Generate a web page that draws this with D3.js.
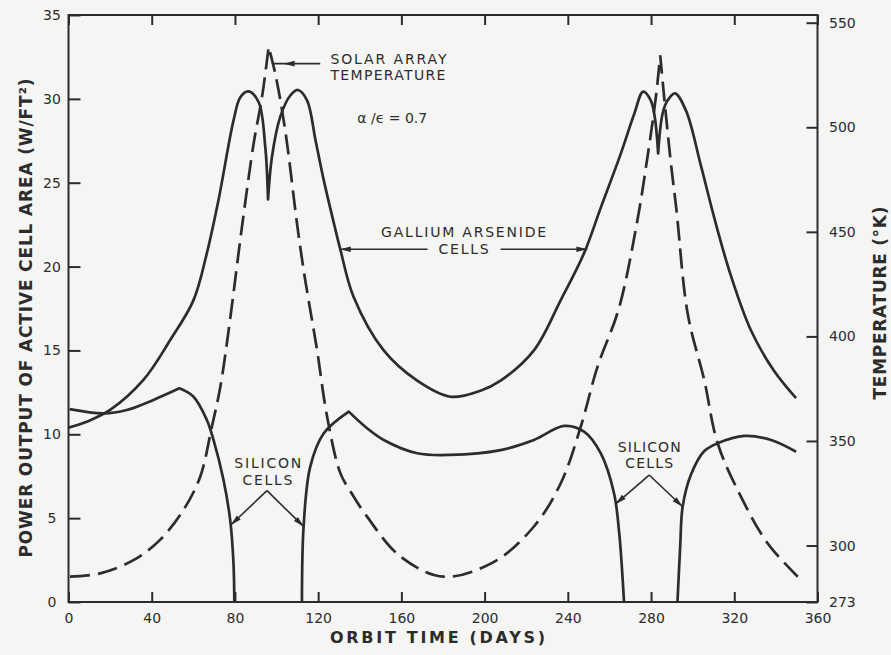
<!DOCTYPE html>
<html>
<head>
<meta charset="utf-8">
<script src="https://cdn.jsdelivr.net/npm/d3@7"></script>
<style>
  html, body { margin: 0; padding: 0; background: #f5f5f3; }
  svg { display: block; }
  text { font-family: "DejaVu Sans", sans-serif; fill: #2c2c2c; }
</style>
</head>
<body>
<svg id="chart" width="891" height="655"></svg>
<script>
// ---- axis ticks ----
const dayTicks = [0, 40, 80, 120, 160, 200, 240, 280, 320, 360];
const powerTicks = [0, 5, 10, 15, 20, 25, 30, 35];
const temperatureTicks = [273, 300, 350, 400, 450, 500, 550];

// ---- gallium arsenide cells, power output (W/ft^2) ----
const galliumDays = [0, 8.8, 20, 36, 48.9, 60.1, 66.5, 72.1, 79.3, 82.6, 86.5, 91.4, 94.6, 95.9,
  97.8, 101.8, 106.6, 110.3, 114.7, 118.7, 122.6, 128.3, 130.7, 137, 151.5, 167.6, 183.6, 198,
  207.7, 223.7, 236.6, 247.8, 255.8, 265.5, 271.9, 276.2, 279.9, 281.8, 283.4, 285.5, 287.9,
  291.5, 296.8, 304, 310.4, 318, 328, 339, 349.7];
const galliumPower = [10.4, 10.75, 11.45, 13.24, 15.62, 18.0, 20.8, 23.97, 28.7, 30.1, 30.45, 29.8, 27.1, 24.0,
  26.55, 28.94, 30.2, 30.53, 29.9, 27.55, 25.2, 22.2, 21.0, 18.2, 15.0, 13.2, 12.24, 12.6,
  13.2, 15.0, 18.0, 20.8, 23.5, 26.75, 29.1, 30.43, 29.9, 28.9, 26.75, 29.1, 29.9,
  30.33, 29.3, 26.0, 22.9, 19.6, 16.2, 13.8, 12.15];
const galliumCusps = [95.9, 283.4];

// ---- silicon cells, power output (W/ft^2) ----
const siliconDays = [0.5, 16.8, 28, 40.8, 53.3, 60.1, 66.5, 69.7, 74.5, 77.7, 79.3, 79.7,
  112.2, 113, 116.2, 122.7, 134.7, 143.5, 151.5, 167.6, 183.6, 207.7, 223.7, 238.2, 247.8,
  255.8, 262.2, 264.7, 267,
  292.7, 294, 295.2, 299.2, 305.6, 312, 324.8, 337.7, 349.7];
const siliconPower = [11.5, 11.25, 11.45, 12.05, 12.74, 12.24, 10.85, 9.66, 7.27, 4.9, 2.3, 0,
  0, 4.5, 8.07, 10.06, 11.35, 10.36, 9.66, 8.87, 8.77, 9.06, 9.66, 10.5, 10.16,
  8.87, 6.48, 4.1, 0,
  0, 3.3, 5.7, 7.6, 9.0, 9.46, 9.9, 9.66, 8.96];
const siliconCusps = [53.3, 134.7];

// ---- solar array temperature (deg K) ----
const temperatureDays = [0.7, 15.2, 31.2, 44, 55.3, 63.3, 68.9, 73, 77.5, 83.4, 89, 93, 96.2,
  99.4, 104.2, 109.8, 113, 115.4, 119.5, 124.3, 130.7, 136, 143.5, 159.6, 180.4, 204.5,
  223.7, 236.6, 246.2, 254.2, 264.5, 273.2, 278.3, 282.3, 284.4, 286.3, 289.5, 292.2,
  297.6, 305.6, 312, 323.2, 336, 350.5];
const temperatureK = [285.1, 286.7, 293.0, 302.7, 317.1, 332.9, 356.8, 376.0, 406.9, 452.6, 492.3, 514.4, 538.4,
  525.6, 498.3, 454.2, 431.8, 417.3, 393.3, 361.6, 334.5, 325.1, 313.8, 294.7, 285.1, 292.2,
  309.1, 329.8, 356.8, 385.3, 413.3, 454.2, 485.9, 514.4, 534.4, 514.4, 483.1, 460.6,
  410.9, 378.9, 348.9, 323.4, 301.1, 285.1];
const temperatureCusps = [96.2, 284.4];

// ---- layout ----
const W = 891, H = 655;
const plot = { left: 68.5, right: 817.5, top: 15, bottom: 602 };
const ink = "#2c2c2c";

const svg = d3.select("#chart");
svg.append("rect").attr("width", W).attr("height", H).attr("fill", "#f5f5f3");

const x = d3.scaleLinear().domain([0, 360]).range([plot.left, plot.right]);
const yPower = d3.scaleLinear().domain([0, 35]).range([plot.bottom, plot.top]);
const yTemp = d3.scaleLinear().domain([273, 550]).range([plot.bottom, 22.7]);

// ---- axes ----
function styleAxis(g) {
  g.select(".domain").remove();
  g.selectAll(".tick line").attr("stroke", ink).attr("stroke-width", 2);
  g.selectAll(".tick text").attr("fill", ink).style("font-size", "14px")
    .style("font-family", "'DejaVu Sans', sans-serif");
}

svg.append("g")
  .attr("transform", `translate(0,${plot.bottom})`)
  .call(d3.axisBottom(x).tickValues(dayTicks).tickSize(-10).tickSizeOuter(0).tickPadding(11))
  .call(styleAxis);

svg.append("g")
  .attr("transform", `translate(0,${plot.top})`)
  .call(d3.axisTop(x).tickValues(dayTicks).tickSize(-10).tickSizeOuter(0).tickFormat(""))
  .call(styleAxis);

svg.append("g")
  .attr("transform", `translate(${plot.left},0)`)
  .call(d3.axisLeft(yPower).tickValues(powerTicks).tickSize(-12).tickSizeOuter(0))
  .call(styleAxis)
  .call(g => g.selectAll(".tick text").attr("text-anchor", "middle").attr("x", -16.5));

svg.append("g")
  .attr("transform", `translate(${plot.right},0)`)
  .call(d3.axisRight(yTemp).tickValues(temperatureTicks).tickSize(-11).tickSizeOuter(0).tickPadding(11.5))
  .call(styleAxis);

// frame
svg.append("rect")
  .attr("x", plot.left).attr("y", plot.top)
  .attr("width", plot.right - plot.left).attr("height", plot.bottom - plot.top)
  .attr("fill", "none").attr("stroke", ink).attr("stroke-width", 2);

// ---- curves ----
// Splits a series at sharp corners (cusps) and at stretches where the output
// sits at zero, smoothing each run separately so corners stay pointed.
function curvePath(days, values, cusps, yScale) {
  const line = d3.line().x(d => x(d[0])).y(d => yScale(d[1]))
    .curve(d3.curveCatmullRom.alpha(0.5));
  const pts = days.map((d, i) => [d, values[i]]);
  const runs = [];
  let cur = [pts[0]], joined = false;
  for (let i = 1; i < pts.length; i++) {
    const p = pts[i], q = pts[i - 1];
    if (q[1] === 0 && p[1] === 0) {
      runs.push({ pts: cur, join: joined });
      cur = [p]; joined = false;
      continue;
    }
    cur.push(p);
    if (cusps.includes(p[0])) {
      runs.push({ pts: cur, join: joined });
      cur = [p]; joined = true;
    }
  }
  runs.push({ pts: cur, join: joined });
  return runs.filter(r => r.pts.length > 1)
    .map(r => { const s = line(r.pts); return r.join ? "L" + s.slice(1) : s; })
    .join("");
}

const curves = svg.append("g").attr("fill", "none").attr("stroke", ink)
  .attr("stroke-width", 2.7).attr("stroke-linejoin", "round");

curves.append("path").attr("class", "gallium")
  .attr("d", curvePath(galliumDays, galliumPower, galliumCusps, yPower));
curves.append("path").attr("class", "silicon")
  .attr("d", curvePath(siliconDays, siliconPower, siliconCusps, yPower));
curves.append("path").attr("class", "temperature")
  .attr("stroke-dasharray", "20,8").attr("stroke-linejoin", "miter")
  .attr("d", curvePath(temperatureDays, temperatureK, temperatureCusps, yTemp));

// ---- annotations (positioned in day / power units) ----
const labels = [
  { text: "SOLAR ARRAY", day: 125.9, power: 32.1, anchor: "start", len: 116 },
  { text: "TEMPERATURE", day: 125.9, power: 31.12, anchor: "start", len: 115 },
  { text: "GALLIUM ARSENIDE", day: 189.9, power: 21.75, anchor: "middle", len: 165 },
  { text: "CELLS", day: 189.9, power: 20.77, anchor: "middle", len: 50 },
  { text: "SILICON", day: 95.8, power: 7.97, anchor: "middle", len: 67 },
  { text: "CELLS", day: 95.6, power: 6.98, anchor: "middle", len: 50 },
  { text: "SILICON", day: 279.1, power: 8.96, anchor: "middle", len: 63 },
  { text: "CELLS", day: 279.1, power: 7.97, anchor: "middle", len: 48 }
];

const notes = svg.append("g");
notes.selectAll("text.note").data(labels).join("text")
  .attr("class", "note")
  .attr("x", d => x(d.day)).attr("y", d => yPower(d.power))
  .attr("text-anchor", d => d.anchor)
  .attr("textLength", d => d.len).attr("lengthAdjust", "spacing")
  .style("font-size", "14px")
  .text(d => d.text);

notes.append("text")
  .attr("x", x(155.6)).attr("y", yPower(28.56))
  .attr("text-anchor", "middle")
  .attr("textLength", 70).attr("lengthAdjust", "spacing")
  .style("font-size", "14px")
  .text("α /ϵ = 0.7");

const arrows = [
  { from: [121, 32.1], to: [97.8, 32.1], head: [103.4, 32.1] },
  { from: [172.6, 21.03], to: [130.4, 21.03] },
  { from: [207.7, 21.03], to: [249.4, 21.03] },
  { from: [95.4, 6.64], to: [78.0, 4.59] },
  { from: [95.4, 6.64], to: [113.1, 4.49] },
  { from: [279.1, 7.57], to: [262.9, 5.84] },
  { from: [279.1, 7.57], to: [295.2, 5.68] }
];

arrows.forEach(a => {
  const x1 = x(a.from[0]), y1 = yPower(a.from[1]);
  const x2 = x(a.to[0]), y2 = yPower(a.to[1]);
  notes.append("line")
    .attr("x1", x1).attr("y1", y1).attr("x2", x2).attr("y2", y2)
    .attr("stroke", ink).attr("stroke-width", 1.6);
  const tip = a.head ? [x(a.head[0]), yPower(a.head[1])] : [x2, y2];
  const ang = Math.atan2(y2 - y1, x2 - x1);
  const L = 11, hw = 2.8;
  const bx = tip[0] - L * Math.cos(ang), by = tip[1] - L * Math.sin(ang);
  const nx = -Math.sin(ang) * hw, ny = Math.cos(ang) * hw;
  notes.append("path")
    .attr("d", `M${tip[0]},${tip[1]}L${bx + nx},${by + ny}L${bx - nx},${by - ny}Z`)
    .attr("fill", ink);
});

// ---- axis titles ----
svg.append("text")
  .attr("x", 437.5).attr("y", 643)
  .attr("text-anchor", "middle")
  .attr("textLength", 215).attr("lengthAdjust", "spacing")
  .style("font-size", "16px").style("font-weight", "bold")
  .text("ORBIT TIME (DAYS)");

svg.append("text")
  .attr("transform", "translate(32,318) rotate(-90)")
  .attr("text-anchor", "middle")
  .attr("textLength", 479).attr("lengthAdjust", "spacing")
  .style("font-size", "17px").style("font-weight", "bold")
  .text("POWER OUTPUT OF ACTIVE CELL AREA (W/FT²)");

svg.append("text")
  .attr("transform", "translate(886,303) rotate(-90)")
  .attr("text-anchor", "middle")
  .attr("textLength", 193).attr("lengthAdjust", "spacing")
  .style("font-size", "17px").style("font-weight", "bold")
  .text("TEMPERATURE (°K)");
</script>
</body>
</html>
